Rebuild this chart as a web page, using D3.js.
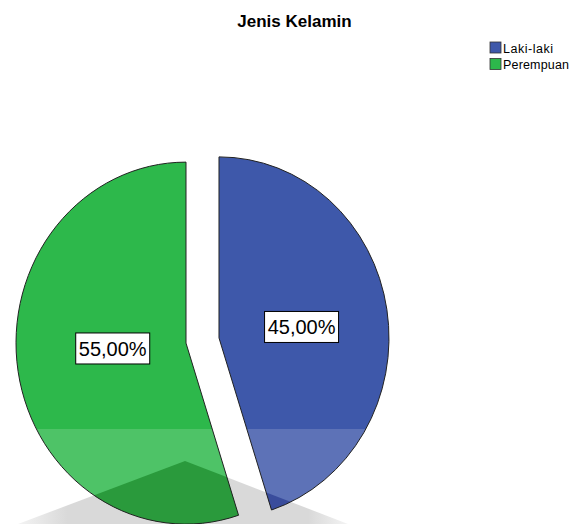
<!DOCTYPE html>
<html>
<head>
<meta charset="utf-8">
<script src="https://cdn.jsdelivr.net/npm/d3@7"></script>
<style>
  body { margin: 0; background: #fff; }
  svg { display: block; font-family: "Liberation Sans", Arial, sans-serif; }
</style>
</head>
<body>
<div id="chart"></div>
<script>
const width = 572
const height = 524

// data
const categories = ['Laki-laki', 'Perempuan']
const percents = [45, 55]
const colors = ['#3e58aa', '#2db84b']
const shadeColors = ['#394c9c', '#2a9a3c']

// pie geometry (SPSS draws it a bit squashed)
const cx = 202.5
const cy = 340.5
const ry = 181
const sx = 170 / 181
const explode = 16.7
const bandY = 429

const svg = d3.select('#chart').append('svg')
  .attr('width', width)
  .attr('height', height)

const defs = svg.append('defs')

// title
svg.append('text')
  .attr('x', 294.5)
  .attr('y', 27)
  .attr('text-anchor', 'middle')
  .style('font-size', '17px')
  .style('font-weight', 'bold')
  .text('Jenis Kelamin')

// legend
const legend = svg.append('g').attr('transform', 'translate(490,42)')
categories.forEach((c, i) => {
  const row = legend.append('g').attr('transform', `translate(0,${i * 16.5})`)
  row.append('rect')
    .attr('width', 11).attr('height', 11)
    .attr('fill', colors[i])
    .attr('stroke', '#333').attr('stroke-width', 0.8)
  row.append('text')
    .attr('x', 13).attr('y', 10.5)
    .style('font-size', '12.5px')
    .attr('textLength', i === 0 ? 50 : 66)
    .text(c)
})

const pie = d3.pie().sort(null).value((d) => d)
const arcs = pie(percents)
const arc = d3.arc().innerRadius(0).outerRadius(ry)

// shadow shape below pie
const shadowPts = [[18, 524], [185, 461], [348, 524]]
const grad = defs.append('linearGradient').attr('id', 'shfade')
grad.append('stop').attr('offset', '0%').attr('stop-color', '#d9d9d9').attr('stop-opacity', 0.3)
grad.append('stop').attr('offset', '15%').attr('stop-color', '#d9d9d9').attr('stop-opacity', 1)
grad.append('stop').attr('offset', '88%').attr('stop-color', '#d9d9d9').attr('stop-opacity', 1)
grad.append('stop').attr('offset', '100%').attr('stop-color', '#d9d9d9').attr('stop-opacity', 0.3)
svg.append('path')
  .attr('d', d3.line()(shadowPts) + 'Z')
  .attr('fill', 'url(#shfade)')

const apex = (d) => {
  const m = (d.startAngle + d.endAngle) / 2
  return [cx + Math.sin(m) * explode, cy - Math.cos(m) * explode]
}
const sliceTransform = (d) => {
  const [ax, ay] = apex(d)
  return `translate(${ax},${ay}) scale(${sx},1)`
}

arcs.forEach((d, i) => {
  defs.append('clipPath').attr('id', 'clip' + i)
    .append('path')
    .attr('d', arc(d))
    .attr('transform', sliceTransform(d))
})

svg.append('g').selectAll('path.slice').data(arcs).join('path')
  .attr('class', 'slice')
  .attr('d', arc)
  .attr('transform', sliceTransform)
  .attr('fill', (d, i) => colors[i])

// lighter lower band + shadow overlay, clipped per slice
arcs.forEach((d, i) => {
  const g = svg.append('g').attr('clip-path', `url(#clip${i})`)
  g.append('rect')
    .attr('x', 0).attr('y', bandY)
    .attr('width', width).attr('height', height - bandY)
    .attr('fill', '#fff').attr('fill-opacity', 0.16)
  g.append('path')
    .attr('d', d3.line()(shadowPts) + 'Z')
    .attr('fill', shadeColors[i])
})

// outlines
svg.append('g').selectAll('path').data(arcs).join('path')
  .attr('d', arc)
  .attr('transform', sliceTransform)
  .attr('fill', 'none')
  .attr('stroke', '#222')
  .attr('stroke-width', 1)
  .attr('vector-effect', 'non-scaling-stroke')

// value labels (SPSS puts them a little off the centroid)
const labelDist = [89, 79]
const labelNudge = [3, -7]
const fmt = (v) => v.toFixed(2).replace('.', ',') + '%'
arcs.forEach((d, i) => {
  const m = (d.startAngle + d.endAngle) / 2
  const [ax, ay] = apex(d)
  const px = ax + Math.sin(m) * labelDist[i] * sx
  const py = ay - Math.cos(m) * labelDist[i] + labelNudge[i]
  const g = svg.append('g').attr('transform', `translate(${px},${py})`)
  g.append('rect')
    .attr('x', -37).attr('y', -15.5)
    .attr('width', 74).attr('height', 31)
    .attr('fill', '#fff')
    .attr('stroke', '#000').attr('stroke-width', 1)
  g.append('text')
    .attr('text-anchor', 'middle')
    .attr('y', 7.5)
    .style('font-size', '20px')
    .text(fmt(percents[i]))
})
</script>
</body>
</html>
